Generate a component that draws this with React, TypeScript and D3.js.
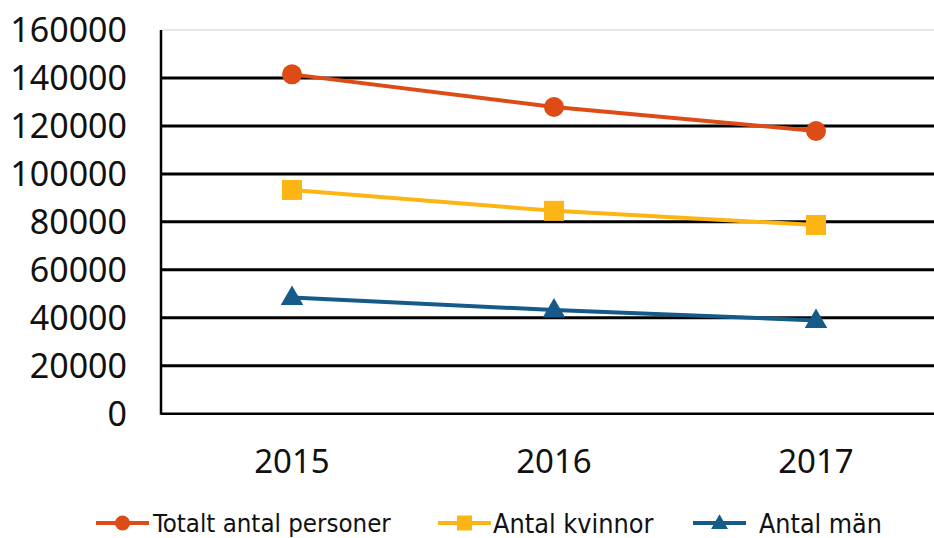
import * as d3 from "d3";

const years = ["2015", "2016", "2017"];
const totalt = [141500, 127900, 117900];
const kvinnor = [93300, 84600, 78700];
const man = [48500, 43200, 38900];
const yTicks = [0, 20000, 40000, 60000, 80000, 100000, 120000, 140000, 160000];

const series = [
  { name: "Totalt antal personer", values: totalt, color: "#DD4B16", marker: "circle" },
  { name: "Antal kvinnor", values: kvinnor, color: "#FDB515", marker: "square" },
  { name: "Antal män", values: man, color: "#165A8A", marker: "triangle" },
];

const W = 934;
const H = 538;
const left = 161;
const right = 947; // plot runs past the right edge of the picture
const top = 30;
const bottom = 413.7;

function Marker({ kind, x, y, size, color }: { kind: string; x: number; y: number; size: number; color: string }) {
  if (kind === "circle") return <circle cx={x} cy={y} r={size / 2} fill={color} />;
  if (kind === "square") return <rect x={x - size / 2} y={y - size / 2} width={size} height={size} fill={color} />;
  const path = d3.symbol(d3.symbolTriangle, size * size * 0.55)();
  return <path d={path ?? ""} transform={`translate(${x},${y + 1})`} fill={color} />;
}

export default function App() {
  const x = d3.scaleBand().domain(years).range([left, right]);
  const y = d3.scaleLinear().domain([0, 160000]).range([bottom, top]);
  const cx = (d: string) => (x(d) ?? 0) + x.bandwidth() / 2;
  const line = d3
    .line<number>()
    .x((_, i) => cx(years[i]))
    .y((d) => y(d));

  const legend = [
    { x0: 96, tx: 153, fs: 25.6 },
    { x0: 438, tx: 493, fs: 26.8 },
    { x0: 693, tx: 759, fs: 26.6 },
  ];

  return (
    <svg width={W} height={H} style={{ position: "absolute", left: 0, top: 0, background: "#fff" }}>
      {/* grid */}
      {yTicks.map((t) =>
        t === 0 ? null : t === 160000 ? (
          <line key={t} x1={left} x2={W} y1={y(t)} y2={y(t)} stroke="#d0d0d0" strokeWidth={1.2} />
        ) : (
          <line key={t} x1={left} x2={W} y1={y(t)} y2={y(t)} stroke="#000" strokeWidth={3} />
        )
      )}
      {/* axes */}
      <line x1={left} x2={W} y1={y(0)} y2={y(0)} stroke="#000" strokeWidth={2.5} />
      <line x1={left} x2={left} y1={top} y2={y(0) + 1} stroke="#000" strokeWidth={2.5} />

      {yTicks.map((t) => (
        <text
          key={t}
          x={127}
          y={y(t)}
          dy="0.36em"
          textAnchor="end"
          fontFamily="'Noto Sans', sans-serif"
          fontSize={34}
          fill="#111"
        >
          {t}
        </text>
      ))}
      {years.map((yr) => (
        <text
          key={yr}
          x={cx(yr)}
          y={473}
          textAnchor="middle"
          fontFamily="'Noto Sans', sans-serif"
          fontSize={33}
          fill="#111"
        >
          {yr}
        </text>
      ))}

      {/* series */}
      {series.map((s) => (
        <g key={s.name}>
          <path d={line(s.values) ?? ""} fill="none" stroke={s.color} strokeWidth={4} />
          {s.values.map((v, i) => (
            <Marker key={i} kind={s.marker} x={cx(years[i])} y={y(v)} size={20} color={s.color} />
          ))}
        </g>
      ))}

      {/* legend */}
      {series.map((s, i) => (
        <g key={s.name}>
          <line x1={legend[i].x0} x2={legend[i].x0 + 53} y1={523} y2={523} stroke={s.color} strokeWidth={4} />
          <Marker kind={s.marker} x={legend[i].x0 + 26.5} y={523} size={15} color={s.color} />
          <text
            x={legend[i].tx}
            y={523}
            dy="0.36em"
            fontFamily="'Liberation Sans Narrow', 'DejaVu Sans Condensed', sans-serif"
            fontSize={legend[i].fs}
            fill="#111"
          >
            {s.name}
          </text>
        </g>
      ))}
    </svg>
  );
}
